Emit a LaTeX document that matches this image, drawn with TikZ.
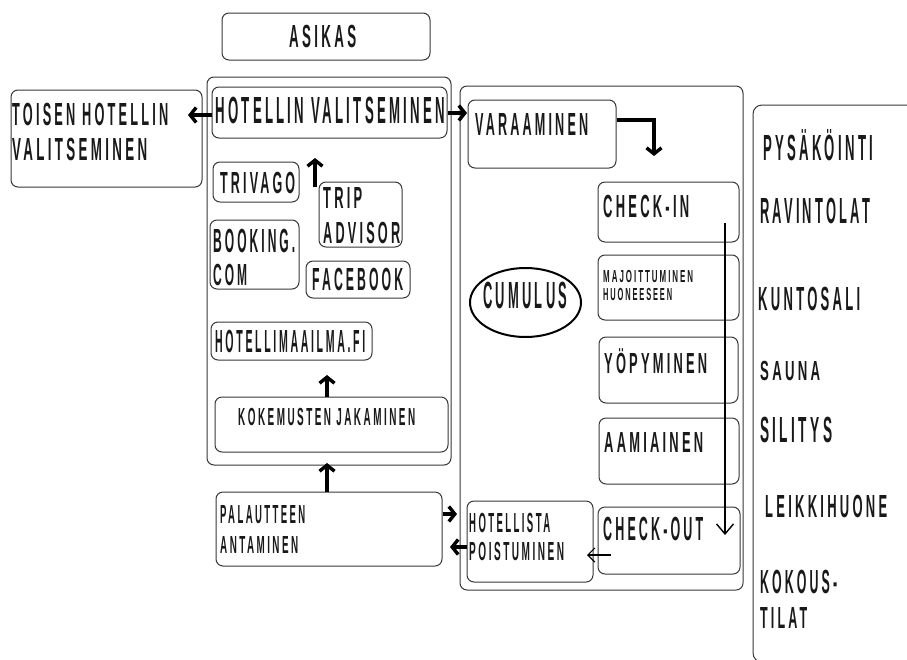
\documentclass[tikz,border=0pt]{standalone}
\usepackage{fontspec}
\usepackage{graphicx}
\setmainfont{Liberation Sans}[LetterSpace=25, UprightFont=*-Bold]
\usetikzlibrary{arrows.meta,shapes.geometric}
\newcommand\mytx[3]{\resizebox{#1pt}{#2pt}{\raisebox{0pt}[\fontcharht\font`\H][0pt]{#3}}}
\newcommand\mybox[5]{\node[box, minimum width=#4pt, minimum height=#5pt] (#1) at (#2,#3) {};}
\begin{document}
\begin{tikzpicture}[x=1pt,y=-1pt,
  box/.style={draw=black!78, line width=1pt, rounded corners=7pt, inner sep=0pt, rectangle},
  lbl/.style={anchor=base west, inner sep=0pt, text=black!90},
  thk/.style={line width=3.4pt, -{Straight Barb[length=6pt,width=15pt]}},
  thn/.style={line width=1.4pt, -{Straight Barb[length=10pt,width=17pt]}},
  thnb/.style={line width=1.2pt, -{Straight Barb[length=7pt,width=14pt]}}]
\useasboundingbox (0,0) rectangle (907,659);
\fill[white] (0,0) rectangle (907,659);
% right panel
\begin{scope}
\clip (0,0) rectangle (907,659);
\draw[draw=black!78, line width=1pt, rounded corners=9pt] (753,105) rectangle (960,662);
\end{scope}
% containers
\mybox{leftC}{329}{271}{244}{388}
\mybox{midC}{601.5}{338}{283}{504}
% boxes
\mybox{asikas}{326}{36.5}{208}{47}
\mybox{hv}{329.5}{112.5}{235}{51}
\mybox{toisen}{106.5}{138.5}{191}{97}
\mybox{trivago}{256}{182}{86}{40}
\mybox{trip}{360.5}{214.5}{83}{65}
\mybox{booking}{254.5}{254.5}{89}{69}
\mybox{facebook}{358}{279.5}{104}{37}
\mybox{hmaailma}{291.5}{341}{161}{38}
\mybox{kokemus}{331.5}{424.5}{233}{55}
\mybox{palaut}{329}{529}{226}{74}
\mybox{varaa}{542}{134}{148}{68}
\mybox{checkin}{668.5}{212}{141}{60}
\mybox{majoit}{668.5}{287.5}{141}{65}
\node[draw=black, ellipse, line width=2pt, minimum width=111pt, minimum height=69pt, inner sep=0pt] (cumulus) at (525.5,302.5) {};
\mybox{yopy}{668.5}{370}{139}{66}
\mybox{aami}{669}{451}{140}{66}
\mybox{hotellista}{530}{541.5}{126}{81}
\mybox{checkout}{669}{540.5}{142}{67}
% texts
\node[lbl] (t-asikas) at (289,47) {\mytx{67}{22}{ASIKAS}};
\node[lbl] (t-hv) at (215,123) {\mytx{230}{26}{HOTELLIN VALITSEMINEN}};
\node[lbl] (t-toisen1) at (12,125) {\mytx{156}{22}{TOISEN HOTELLIN}};
\node[lbl] (t-toisen2) at (12,160) {\mytx{135}{22}{VALITSEMINEN}};
\node[lbl] (t-trivago) at (220,193) {\mytx{75}{21}{TRIVAGO}};
\node[lbl] (t-trip1) at (323,208) {\mytx{39}{21}{TRIP}};
\node[lbl] (t-trip2) at (323,243) {\mytx{77}{21}{ADVISOR}};
\node[lbl] (t-book1) at (213,252) {\mytx{82}{23}{BOOKING.}};
\node[lbl] (t-book2) at (213,285) {\mytx{34}{21}{COM}};
\node[lbl] (t-fb) at (312,290) {\mytx{91}{22}{FACEBOOK}};
\node[lbl] (t-hm) at (215,352) {\mytx{150}{22}{HOTELLIMAAILMA.FI}};
\node[lbl] (t-kok) at (238,425) {\mytx{177}{17}{KOKEMUSTEN JAKAMINEN}};
\node[lbl] (t-pal1) at (220,523) {\mytx{85}{18}{PALAUTTEEN}};
\node[lbl] (t-pal2) at (220,553) {\mytx{78}{17}{ANTAMINEN}};
\node[lbl] (t-var) at (475,135) {\mytx{113}{22}{VARAAMINEN}};
\node[lbl] (t-cin) at (603,217) {\mytx{86}{22}{CHECK-IN}};
\node[lbl] (t-maj1) at (603,282) {\mytx{90}{12}{MAJOITTUMINEN}};
\node[lbl] (t-maj2) at (603,300) {\mytx{69}{12}{HUONEESEEN}};
\node[lbl] (t-cum) at (483,308) {\mytx{84}{26}{CUMULUS}};
\node[lbl] (t-yop) at (604,373) {\mytx{103}{20}{YÖPYMINEN}};
\node[lbl] (t-aam) at (604,452) {\mytx{99}{20}{AAMIAINEN}};
\node[lbl] (t-cout) at (603,540) {\mytx{100}{23}{CHECK-OUT}};
\node[lbl] (t-hot1) at (469,532) {\mytx{81}{19}{HOTELLISTA}};
\node[lbl] (t-hot2) at (469,560) {\mytx{95}{18}{POISTUMINEN}};
\node[lbl] (t-pys) at (763,160) {\mytx{110}{25}{PYSÄKÖINTI}};
\node[lbl] (t-rav) at (760,223) {\mytx{110}{25}{RAVINTOLAT}};
\node[lbl] (t-kun) at (758,310) {\mytx{102}{23}{KUNTOSALI}};
\node[lbl] (t-sau) at (760,380) {\mytx{60}{19}{SAUNA}};
\node[lbl] (t-sil) at (760,442) {\mytx{72}{25}{SILITYS}};
\node[lbl] (t-lei) at (765,517) {\mytx{122}{22}{LEIKKIHUONE}};
\node[lbl] (t-kokous1) at (760,593) {\mytx{77}{23}{KOKOUS-}};
\node[lbl] (t-kokous2) at (760,628) {\mytx{47}{21}{TILAT}};
% connectors
\coordinate (a1e) at (188,115);
\draw[thk] (hv.west |- a1e) -- (a1e);
\coordinate (a2e) at (467,113);
\draw[thk] (hv.east |- a2e) -- (a2e);
\coordinate (a3e) at (654,156);
\draw[thk] (varaa.east |- 0,120) -| (a3e);
\coordinate (a4s) at (315,187);
\coordinate (a4e) at (315,158);
\draw[thk] (a4s) -- (a4e);
\coordinate (a5e) at (327,375);
\draw[thk] (kokemus.north -| a5e) -- (a5e);
\coordinate (a6e) at (327,463);
\draw[thk] (palaut.north -| a6e) -- (a6e);
\coordinate (a7e) at (457,514);
\draw[thk] (palaut.east |- a7e) -- (a7e);
\coordinate (a8e) at (450,547);
\draw[thk] (hotellista.west |- a8e) -- (a8e);
\coordinate (a9s) at (725,223);
\coordinate (a9e) at (725,535);
\draw[thn] (a9s) -- (a9e);
\coordinate (a10s) at (611,555);
\coordinate (a10e) at (587,555);
\draw[thnb] (a10s) -- (a10e);
\end{tikzpicture}
\end{document}
